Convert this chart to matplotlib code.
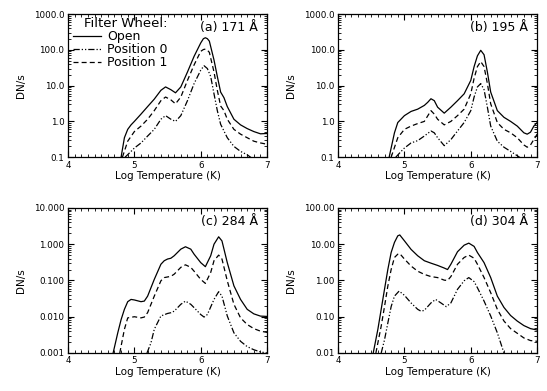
import numpy as np
from matplotlib import pyplot as plt
from matplotlib.ticker import FixedLocator, MultipleLocator, LogLocator, NullFormatter, FormatStrFormatter

# (a) 171 A
logt_171_open = [4.80, 4.85, 4.90, 4.95, 5.00, 5.10, 5.20, 5.30, 5.40, 5.47, 5.55, 5.62, 5.70, 5.80, 5.90,
                 6.00, 6.04, 6.07, 6.10, 6.13, 6.20, 6.25, 6.30, 6.35, 6.40, 6.50, 6.60, 6.70, 6.80, 6.90, 7.00]
dn_171_open = [0.1, 0.35, 0.6, 0.8, 1.0, 1.6, 2.6, 4.2, 7.4, 9.2, 7.7, 6.3, 9.2, 24, 66,
               156, 205, 218, 205, 175, 52, 18, 6.6, 4.6, 2.6, 1.15, 0.8, 0.63, 0.52, 0.45, 0.46]
logt_171_pos1 = [4.82, 4.90, 5.00, 5.10, 5.20, 5.30, 5.40, 5.47, 5.55, 5.62, 5.70, 5.80, 5.90, 6.00,
                 6.04, 6.07, 6.10, 6.13, 6.20, 6.25, 6.30, 6.35, 6.40, 6.50, 6.60, 6.70, 6.80, 6.90, 7.00]
dn_171_pos1 = [0.1, 0.28, 0.52, 0.74, 1.15, 2.0, 3.8, 4.8, 4.0, 3.1, 4.8, 14, 38, 91,
               102, 105, 98, 85, 24, 7.4, 2.7, 2.0, 1.15, 0.6, 0.44, 0.35, 0.28, 0.25, 0.23]
logt_171_pos0 = [4.86, 4.95, 5.00, 5.10, 5.20, 5.30, 5.40, 5.47, 5.55, 5.62, 5.70, 5.80, 5.90, 6.00,
                 6.05, 6.10, 6.15, 6.20, 6.25, 6.30, 6.40, 6.50, 6.60, 6.70, 6.75, 6.80]
dn_171_pos0 = [0.1, 0.145, 0.18, 0.25, 0.39, 0.6, 1.15, 1.45, 1.15, 1.0, 1.45, 3.8, 11.4, 27,
               36, 30, 18, 5.9, 2.0, 0.83, 0.35, 0.2, 0.145, 0.117, 0.1, 0.085]

# (b) 195 A
logt_195_open = [4.77, 4.85, 4.90, 5.00, 5.10, 5.20, 5.30, 5.35, 5.40, 5.45, 5.50, 5.60, 5.70, 5.80, 5.90,
                 6.00, 6.05, 6.10, 6.15, 6.20, 6.25, 6.30, 6.40, 6.50, 6.60, 6.70, 6.80, 6.85, 6.90, 6.95, 7.00]
dn_195_open = [0.1, 0.48, 0.93, 1.45, 1.9, 2.2, 2.8, 3.4, 4.3, 3.8, 2.5, 1.7, 2.5, 3.8, 5.9,
               14, 34, 68, 97, 73, 24, 6.6, 2.0, 1.3, 1.0, 0.74, 0.48, 0.44, 0.5, 0.74, 0.93]
logt_195_pos1 = [4.80, 4.90, 5.00, 5.10, 5.20, 5.30, 5.40, 5.45, 5.50, 5.60, 5.70, 5.80, 5.90, 6.00,
                 6.05, 6.10, 6.15, 6.20, 6.25, 6.30, 6.40, 6.50, 6.60, 6.70, 6.80, 6.85, 6.90, 7.00]
dn_195_pos1 = [0.1, 0.35, 0.6, 0.74, 0.87, 1.0, 2.0, 1.6, 1.15, 0.8, 1.0, 1.45, 2.2, 5.9,
               16, 34, 47, 34, 11.4, 3.1, 0.93, 0.6, 0.48, 0.35, 0.22, 0.19, 0.22, 0.44]
logt_195_pos0 = [4.87, 4.95, 5.00, 5.10, 5.20, 5.30, 5.40, 5.45, 5.50, 5.60, 5.70, 5.80, 5.90, 6.00,
                 6.05, 6.10, 6.15, 6.20, 6.25, 6.30, 6.40, 6.50, 6.60, 6.70, 6.75, 6.80]
dn_195_pos0 = [0.1, 0.145, 0.18, 0.25, 0.29, 0.39, 0.54, 0.48, 0.35, 0.21, 0.31, 0.54, 0.93, 2.0,
               4.8, 9.2, 11.4, 7.7, 2.5, 0.74, 0.28, 0.19, 0.145, 0.11, 0.095, 0.08]

# (c) 284 A
logt_284_open = [4.68, 4.75, 4.80, 4.85, 4.90, 4.95, 5.00, 5.10, 5.15, 5.20, 5.30, 5.40, 5.45, 5.50, 5.55,
                 5.60, 5.70, 5.77, 5.85, 5.90, 6.00, 6.07, 6.15, 6.20, 6.27, 6.32, 6.40, 6.50, 6.60,
                 6.70, 6.80, 6.90, 7.00]
dn_284_open = [0.001, 0.0036, 0.0083, 0.016, 0.026, 0.030, 0.029, 0.026, 0.027, 0.037, 0.107, 0.28, 0.35,
               0.39, 0.41, 0.48, 0.73, 0.85, 0.73, 0.53, 0.31, 0.24, 0.48, 1.0, 1.6, 1.23, 0.31, 0.071,
               0.030, 0.016, 0.012, 0.0104, 0.0102]
logt_284_pos1 = [4.78, 4.85, 4.90, 5.00, 5.10, 5.15, 5.20, 5.30, 5.40, 5.45, 5.55, 5.60, 5.70, 5.77, 5.85,
                 5.90, 6.00, 6.07, 6.15, 6.20, 6.27, 6.32, 6.40, 6.50, 6.60, 6.70, 6.80, 6.90, 7.00]
dn_284_pos1 = [0.001, 0.0045, 0.0093, 0.0100, 0.0093, 0.0098, 0.013, 0.037, 0.098, 0.12, 0.13, 0.149,
               0.23, 0.27, 0.23, 0.18, 0.107, 0.083, 0.166, 0.35, 0.50, 0.39, 0.098, 0.022, 0.0093,
               0.0061, 0.0047, 0.0040, 0.0037]
logt_284_pos0 = [5.19, 5.25, 5.30, 5.40, 5.50, 5.55, 5.60, 5.70, 5.77, 5.85, 5.90, 6.00, 6.05, 6.10,
                 6.20, 6.27, 6.32, 6.40, 6.50, 6.60, 6.70, 6.80, 6.90, 7.00]
dn_284_pos0 = [0.001, 0.0019, 0.0045, 0.0105, 0.0123, 0.0129, 0.0142, 0.022, 0.027, 0.022, 0.0178,
               0.0115, 0.0098, 0.0115, 0.030, 0.049, 0.037, 0.0105, 0.0036, 0.0021, 0.0015, 0.00123,
               0.00107, 0.001]

# (d) 304 A
logt_304_open = [4.53, 4.60, 4.70, 4.75, 4.80, 4.85, 4.90, 4.93, 5.00, 5.10, 5.20, 5.30, 5.40, 5.50, 5.60,
                 5.65, 5.70, 5.80, 5.90, 5.97, 6.05, 6.10, 6.20, 6.30, 6.40, 6.50, 6.60, 6.70, 6.80,
                 6.90, 7.00]
dn_304_open = [0.01, 0.045, 0.57, 2.0, 5.9, 11.2, 17, 18, 12.4, 7.2, 4.8, 3.5, 3.0, 2.6, 2.2,
               2.0, 2.8, 6.2, 9.4, 10.7, 8.7, 5.9, 3.1, 1.2, 0.37, 0.18, 0.108, 0.076, 0.057,
               0.047, 0.043]
logt_304_pos1 = [4.57, 4.65, 4.70, 4.75, 4.80, 4.85, 4.90, 4.93, 5.00, 5.10, 5.20, 5.30, 5.40, 5.50, 5.60,
                 5.65, 5.70, 5.80, 5.90, 5.97, 6.05, 6.10, 6.20, 6.30, 6.40, 6.50, 6.60, 6.70, 6.80,
                 6.90, 7.00]
dn_304_pos1 = [0.01, 0.055, 0.19, 0.70, 2.0, 4.3, 5.3, 5.5, 3.9, 2.5, 1.8, 1.47, 1.28, 1.2, 1.02,
               1.0, 1.28, 2.8, 4.3, 5.0, 4.1, 2.8, 1.2, 0.46, 0.16, 0.076, 0.047, 0.035, 0.026,
               0.022, 0.021]
logt_304_pos0 = [4.65, 4.70, 4.75, 4.80, 4.85, 4.92, 5.00, 5.10, 5.20, 5.25, 5.30, 5.40, 5.47, 5.55,
                 5.63, 5.70, 5.80, 5.90, 5.97, 6.05, 6.10, 6.20, 6.30, 6.40, 6.45, 6.50, 6.55]
dn_304_pos0 = [0.01, 0.023, 0.067, 0.19, 0.37, 0.51, 0.39, 0.24, 0.16, 0.142, 0.15, 0.24, 0.30, 0.24,
               0.19, 0.24, 0.57, 0.98, 1.2, 0.93, 0.63, 0.27, 0.105, 0.036, 0.019, 0.01, 0.007]

panels = [
    ("(a) 171 Å", (0.1, 1000), "%.1f",
     (logt_171_open, dn_171_open), (logt_171_pos0, dn_171_pos0), (logt_171_pos1, dn_171_pos1)),
    ("(b) 195 Å", (0.1, 1000), "%.1f",
     (logt_195_open, dn_195_open), (logt_195_pos0, dn_195_pos0), (logt_195_pos1, dn_195_pos1)),
    ("(c) 284 Å", (0.001, 10), "%.3f",
     (logt_284_open, dn_284_open), (logt_284_pos0, dn_284_pos0), (logt_284_pos1, dn_284_pos1)),
    ("(d) 304 Å", (0.01, 100), "%.2f",
     (logt_304_open, dn_304_open), (logt_304_pos0, dn_304_pos0), (logt_304_pos1, dn_304_pos1)),
]
positions = [
    [0.1243, 0.598, 0.364, 0.366],
    [0.618, 0.598, 0.364, 0.366],
    [0.1243, 0.0972, 0.364, 0.371],
    [0.618, 0.0972, 0.364, 0.371],
]

dashdotdot = (0, (5, 1.6, 1, 1.6, 1, 1.6))
dashed = (0, (4, 2.5))

fig = plt.figure(figsize=(5.47, 3.91), dpi=100)
for i, (label, ylim, fmt, s_open, s_pos0, s_pos1) in enumerate(panels):
    ax = fig.add_axes(positions[i])
    ax.plot(s_open[0], s_open[1], color="black", lw=0.9, label="Open")
    ax.plot(s_pos0[0], s_pos0[1], color="black", lw=0.9, linestyle=dashdotdot, label="Position 0")
    ax.plot(s_pos1[0], s_pos1[1], color="black", lw=0.9, linestyle=dashed, label="Position 1")
    ax.set_yscale("log")
    ax.set_xlim(4, 7)
    ax.set_ylim(*ylim)
    ax.xaxis.set_major_locator(FixedLocator([4, 5, 6, 7]))
    ax.xaxis.set_minor_locator(MultipleLocator(0.1))
    ax.yaxis.set_major_locator(LogLocator(base=10))
    ax.yaxis.set_minor_locator(LogLocator(base=10, subs=np.arange(2, 10)))
    ax.yaxis.set_major_formatter(FormatStrFormatter(fmt))
    ax.yaxis.set_minor_formatter(NullFormatter())
    ax.tick_params(which="both", direction="in", top=True, right=True, labelsize=6.3, pad=2.5)
    ax.tick_params(which="major", length=4, width=0.8)
    ax.tick_params(which="minor", length=2, width=0.6)
    for sp in ax.spines.values():
        sp.set_linewidth(0.9)
    ax.set_xlabel("Log Temperature (K)", fontsize=7.5, labelpad=1)
    ax.set_ylabel("DN/s", fontsize=7.5, labelpad=6)
    ax.text(0.955, 0.95, label, transform=ax.transAxes, ha="right", va="top", fontsize=9)
    if i == 0:
        leg = ax.legend(loc="upper left", bbox_to_anchor=(0.02, 0.985), title="Filter Wheel:",
                        frameon=False, fontsize=9, title_fontsize=9.5, handlelength=2.2,
                        handletextpad=0.5, labelspacing=0.0, borderaxespad=0.0, borderpad=0.1)
        leg._legend_box.align = "right"

fig.savefig("out.png", dpi=100)
